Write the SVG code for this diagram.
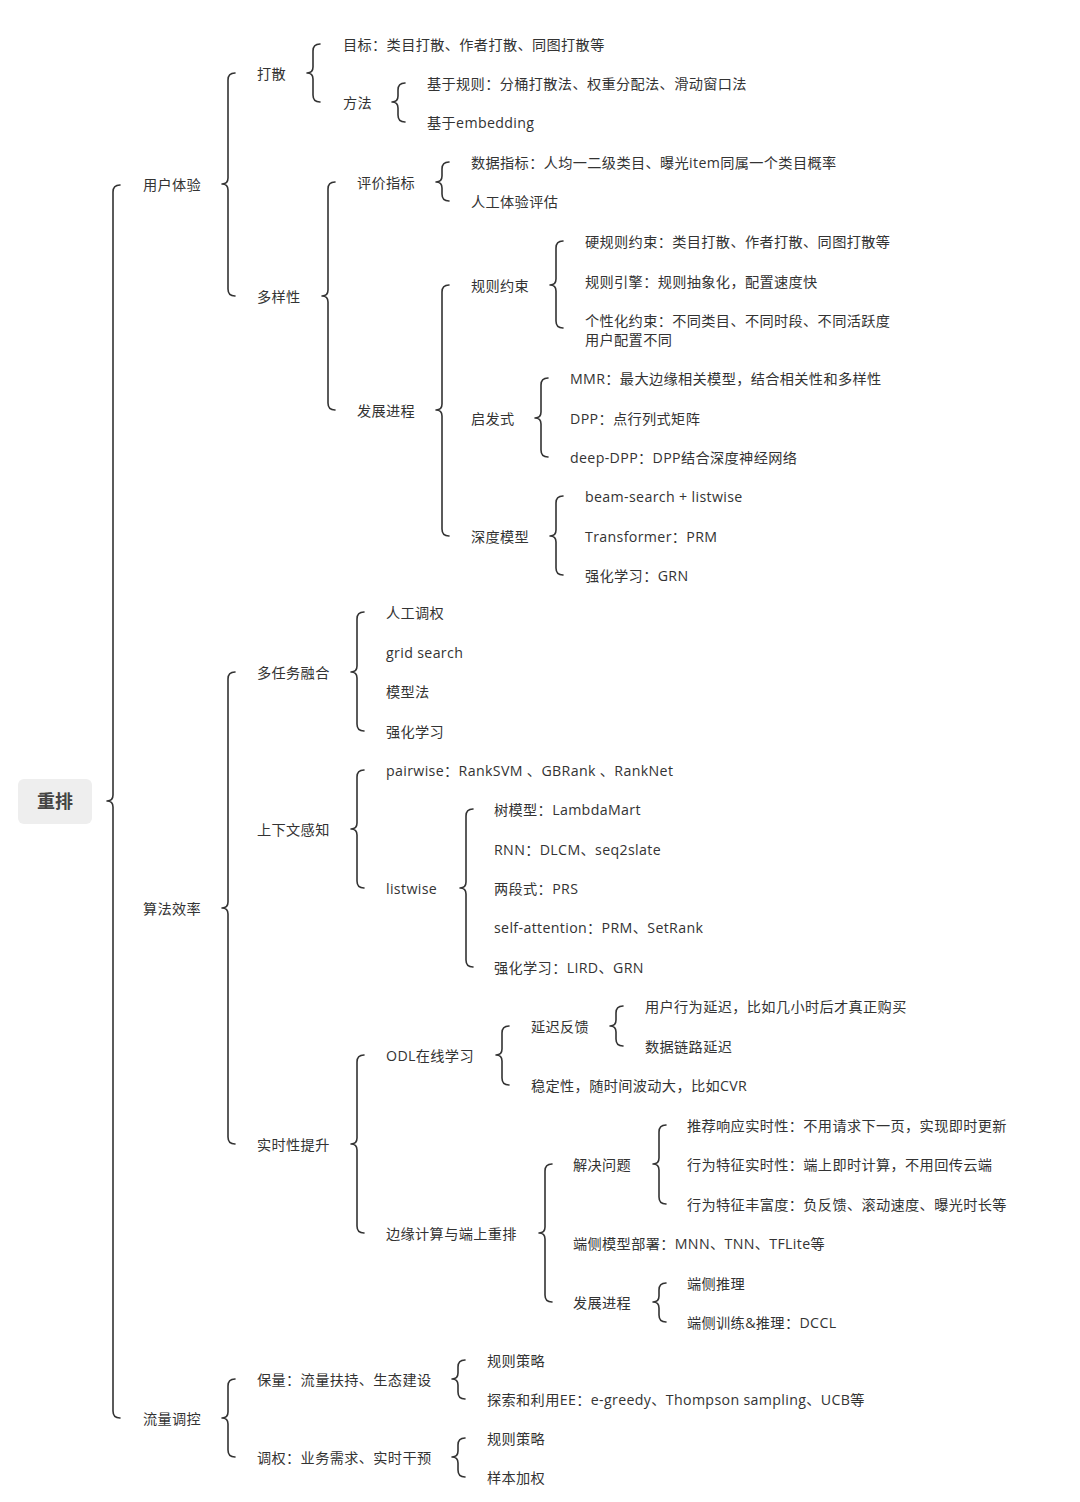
<svg xmlns="http://www.w3.org/2000/svg" width="1080" height="1502" viewBox="0 0 1080 1502">
<style>
text{font-family:"Open Sans","Noto Sans CJK SC",sans-serif;font-size:14.2px;letter-spacing:0.35px;fill:#333;dominant-baseline:central}
.root{font-size:18px;font-weight:bold;text-anchor:middle;letter-spacing:0;fill:#444}
.b{fill:none;stroke:#333;stroke-width:1.6;stroke-linecap:round;stroke-linejoin:round}
</style>
<rect width="1080" height="1502" fill="#fff"/>
<g id="connectors">
<path class="b" d="M120 185 Q113 185 113 192 L113 795 Q113 801 107 801 Q113 801 113 807 L113 1411 Q113 1418 120 1418"/>
<path class="b" d="M235 73 Q228 73 228 80 L228 178 Q228 184 222 184 Q228 184 228 190 L228 289 Q228 296 235 296"/>
<path class="b" d="M320 44 Q313 44 313 51 L313 67 Q313 73 307 73 Q313 73 313 79 L313 95 Q313 102 320 102"/>
<path class="b" d="M405 83 Q398 83 398 90 L398 96 Q398 102 392 102 Q398 102 398 108 L398 115 Q398 122 405 122"/>
<path class="b" d="M335 182 Q328 182 328 189 L328 290 Q328 296 322 296 Q328 296 328 302 L328 403 Q328 410 335 410"/>
<path class="b" d="M449 162 Q442 162 442 169 L442 176 Q442 182 436 182 Q442 182 442 188 L442 194 Q442 201 449 201"/>
<path class="b" d="M449 285 Q442 285 442 292 L442 404 Q442 410 436 410 Q442 410 442 416 L442 529 Q442 536 449 536"/>
<path class="b" d="M563 241 Q556 241 556 248 L556 279 Q556 285 550 285 Q556 285 556 291 L556 321 Q556 328 563 328"/>
<path class="b" d="M548 378 Q541 378 541 385 L541 412 Q541 418 535 418 Q541 418 541 424 L541 450 Q541 457 548 457"/>
<path class="b" d="M563 496 Q556 496 556 503 L556 530 Q556 536 550 536 Q556 536 556 542 L556 568 Q556 575 563 575"/>
<path class="b" d="M235 672 Q228 672 228 679 L228 902 Q228 908 222 908 Q228 908 228 914 L228 1137 Q228 1144 235 1144"/>
<path class="b" d="M364 612 Q357 612 357 619 L357 666 Q357 672 351 672 Q357 672 357 678 L357 724 Q357 731 364 731"/>
<path class="b" d="M364 770 Q357 770 357 777 L357 823 Q357 829 351 829 Q357 829 357 835 L357 881 Q357 888 364 888"/>
<path class="b" d="M473 809 Q466 809 466 816 L466 882 Q466 888 460 888 Q466 888 466 894 L466 960 Q466 967 473 967"/>
<path class="b" d="M364 1055 Q357 1055 357 1062 L357 1138 Q357 1144 351 1144 Q357 1144 357 1150 L357 1226 Q357 1233 364 1233"/>
<path class="b" d="M509 1026 Q502 1026 502 1033 L502 1049 Q502 1055 496 1055 Q502 1055 502 1061 L502 1078 Q502 1085 509 1085"/>
<path class="b" d="M623 1006 Q616 1006 616 1013 L616 1020 Q616 1026 610 1026 Q616 1026 616 1032 L616 1039 Q616 1046 623 1046"/>
<path class="b" d="M552 1164 Q545 1164 545 1171 L545 1227 Q545 1233 539 1233 Q545 1233 545 1239 L545 1295 Q545 1302 552 1302"/>
<path class="b" d="M666 1125 Q659 1125 659 1132 L659 1158 Q659 1164 653 1164 Q659 1164 659 1170 L659 1197 Q659 1204 666 1204"/>
<path class="b" d="M666 1283 Q659 1283 659 1290 L659 1296 Q659 1302 653 1302 Q659 1302 659 1308 L659 1315 Q659 1322 666 1322"/>
<path class="b" d="M235 1379 Q228 1379 228 1386 L228 1412 Q228 1418 222 1418 Q228 1418 228 1424 L228 1450 Q228 1457 235 1457"/>
<path class="b" d="M465 1360 Q458 1360 458 1367 L458 1373 Q458 1379 452 1379 Q458 1379 458 1385 L458 1392 Q458 1399 465 1399"/>
<path class="b" d="M465 1438 Q458 1438 458 1445 L458 1451 Q458 1457 452 1457 Q458 1457 458 1463 L458 1470 Q458 1477 465 1477"/>
</g>
<g id="root"><rect x="18" y="779" width="74" height="45" rx="6" fill="#eeeeee"/><text class="root" x="55" y="801">重排</text></g>
<g id="n-yhty"><text x="143" y="184">用户体验</text></g>
<g id="n-ds"><text x="257" y="73">打散</text></g>
<g id="n-ds-mb"><text x="343" y="44">目标：类目打散、作者打散、同图打散等</text></g>
<g id="n-ds-ff"><text x="343" y="102">方法</text></g>
<g id="n-ds-gz"><text x="427" y="83">基于规则：分桶打散法、权重分配法、滑动窗口法</text></g>
<g id="n-ds-emb"><text x="427" y="122">基于embedding</text></g>
<g id="n-dyx"><text x="257" y="296">多样性</text></g>
<g id="n-pjzb"><text x="357" y="182">评价指标</text></g>
<g id="n-sjzb"><text x="471" y="162">数据指标：人均一二级类目、曝光item同属一个类目概率</text></g>
<g id="n-rgty"><text x="471" y="201">人工体验评估</text></g>
<g id="n-fzjc"><text x="357" y="410">发展进程</text></g>
<g id="n-gzys"><text x="471" y="285">规则约束</text></g>
<g id="n-ygz"><text x="585" y="241">硬规则约束：类目打散、作者打散、同图打散等</text></g>
<g id="n-gzyq"><text x="585" y="281">规则引擎：规则抽象化，配置速度快</text></g>
<g id="n-gxh"><text x="585" y="320">个性化约束：不同类目、不同时段、不同活跃度</text><text x="585" y="339">用户配置不同</text></g>
<g id="n-qfs"><text x="471" y="418">启发式</text></g>
<g id="n-mmr"><text x="570" y="378">MMR：最大边缘相关模型，结合相关性和多样性</text></g>
<g id="n-dpp"><text x="570" y="418">DPP：点行列式矩阵</text></g>
<g id="n-ddpp"><text x="570" y="457">deep-DPP：DPP结合深度神经网络</text></g>
<g id="n-sdmx"><text x="471" y="536">深度模型</text></g>
<g id="n-beam"><text x="585" y="496">beam-search + listwise</text></g>
<g id="n-trans"><text x="585" y="536">Transformer：PRM</text></g>
<g id="n-qhxx1"><text x="585" y="575">强化学习：GRN</text></g>
<g id="n-sfxl"><text x="143" y="908">算法效率</text></g>
<g id="n-drw"><text x="257" y="672">多任务融合</text></g>
<g id="n-rgtq"><text x="386" y="612">人工调权</text></g>
<g id="n-grid"><text x="386" y="652">grid search</text></g>
<g id="n-mxf"><text x="386" y="691">模型法</text></g>
<g id="n-qhxx2"><text x="386" y="731">强化学习</text></g>
<g id="n-sxw"><text x="257" y="829">上下文感知</text></g>
<g id="n-pair"><text x="386" y="770">pairwise：RankSVM 、GBRank 、RankNet</text></g>
<g id="n-list"><text x="386" y="888">listwise</text></g>
<g id="n-smx"><text x="494" y="809">树模型：LambdaMart</text></g>
<g id="n-rnn"><text x="494" y="849">RNN：DLCM、seq2slate</text></g>
<g id="n-lds"><text x="494" y="888">两段式：PRS</text></g>
<g id="n-sa"><text x="494" y="927">self-attention：PRM、SetRank</text></g>
<g id="n-qhxx3"><text x="494" y="967">强化学习：LIRD、GRN</text></g>
<g id="n-ssx"><text x="257" y="1144">实时性提升</text></g>
<g id="n-odl"><text x="386" y="1055">ODL在线学习</text></g>
<g id="n-ycfk"><text x="531" y="1026">延迟反馈</text></g>
<g id="n-yhxw"><text x="645" y="1006">用户行为延迟，比如几小时后才真正购买</text></g>
<g id="n-sjll"><text x="645" y="1046">数据链路延迟</text></g>
<g id="n-wdx"><text x="531" y="1085">稳定性，随时间波动大，比如CVR</text></g>
<g id="n-byjs"><text x="386" y="1233">边缘计算与端上重排</text></g>
<g id="n-jjwt"><text x="573" y="1164">解决问题</text></g>
<g id="n-tjxy"><text x="687" y="1125">推荐响应实时性：不用请求下一页，实现即时更新</text></g>
<g id="n-xwss"><text x="687" y="1164">行为特征实时性：端上即时计算，不用回传云端</text></g>
<g id="n-xwff"><text x="687" y="1204">行为特征丰富度：负反馈、滚动速度、曝光时长等</text></g>
<g id="n-dcbs"><text x="573" y="1243">端侧模型部署：MNN、TNN、TFLite等</text></g>
<g id="n-fzjc2"><text x="573" y="1302">发展进程</text></g>
<g id="n-dctl"><text x="687" y="1283">端侧推理</text></g>
<g id="n-dcxl"><text x="687" y="1322">端侧训练&amp;推理：DCCL</text></g>
<g id="n-llkk"><text x="143" y="1418">流量调控</text></g>
<g id="n-bl"><text x="257" y="1379">保量：流量扶持、生态建设</text></g>
<g id="n-gzcl1"><text x="487" y="1360">规则策略</text></g>
<g id="n-ee"><text x="487" y="1399">探索和利用EE：e-greedy、Thompson sampling、UCB等</text></g>
<g id="n-tq"><text x="257" y="1457">调权：业务需求、实时干预</text></g>
<g id="n-gzcl2"><text x="487" y="1438">规则策略</text></g>
<g id="n-bbjq"><text x="487" y="1477">样本加权</text></g>
</svg>
